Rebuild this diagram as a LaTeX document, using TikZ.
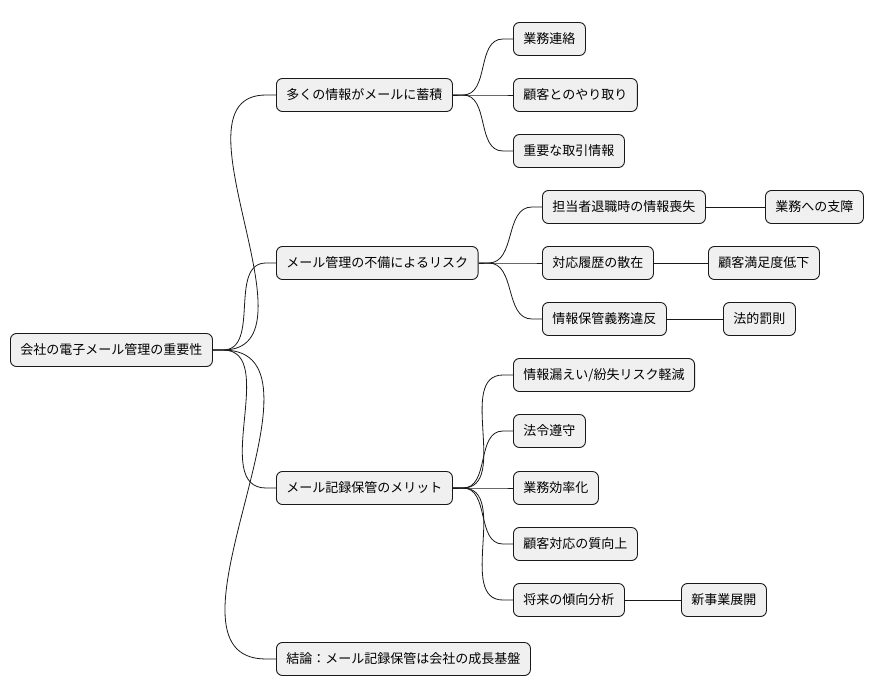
\documentclass[tikz,border=0pt]{standalone}
\usepackage{fontspec}
\newfontfamily\cjk{Noto Sans CJK JP}
\usetikzlibrary{calc}
\tikzset{
 mm/.style={draw=black!90,fill=black!6,rounded corners=6pt,line width=0.9pt,minimum height=33pt,inner xsep=10pt,inner ysep=0pt,font=\cjk\fontsize{13pt}{15pt}\selectfont,anchor=west},
 ln/.style={line width=0.8pt,draw=black!90}
}
\newcommand{\conn}[2]{\draw[ln] (#1.east) -- ++(10pt,0) to[out=0,in=180] ($(#2.west)+(-10pt,0)$) -- (#2.west);}
\begin{document}
\begin{tikzpicture}[x=1pt,y=-1pt]
\useasboundingbox (0,0) rectangle (880,696);
\node[mm] (r) at (10,350) {会社の電子メール管理の重要性};
\node[mm] (a) at (276,95) {多くの情報がメールに蓄積};
\node[mm] (b) at (276,263) {メール管理の不備によるリスク};
\node[mm] (c) at (276,488) {メール記録保管のメリット};
\node[mm] (d) at (276,659) {結論：メール記録保管は会社の成長基盤};
\node[mm] (a1) at (513,39) {業務連絡};
\node[mm] (a2) at (513,95) {顧客とのやり取り};
\node[mm] (a3) at (513,151) {重要な取引情報};
\node[mm] (b1) at (542,207) {担当者退職時の情報喪失};
\node[mm] (b1a) at (765,207) {業務への支障};
\node[mm] (b2) at (542,263) {対応履歴の散在};
\node[mm] (b2a) at (708,263) {顧客満足度低下};
\node[mm] (b3) at (542,319) {情報保管義務違反};
\node[mm] (b3a) at (723,319) {法的罰則};
\node[mm] (c1) at (513,375) {情報漏えい/紛失リスク軽減};
\node[mm] (c2) at (513,431) {法令遵守};
\node[mm] (c3) at (513,488) {業務効率化};
\node[mm] (c4) at (513,544) {顧客対応の質向上};
\node[mm] (c5) at (513,600) {将来の傾向分析};
\node[mm] (c5a) at (681,600) {新事業展開};
\conn{r}{a}\conn{r}{b}\conn{r}{c}\conn{r}{d}
\conn{a}{a1}\conn{a}{a2}\conn{a}{a3}
\conn{b}{b1}\conn{b}{b2}\conn{b}{b3}
\draw[ln] (b1.east)--(b1a.west); \draw[ln] (b2.east)--(b2a.west); \draw[ln] (b3.east)--(b3a.west);
\conn{c}{c1}\conn{c}{c2}\conn{c}{c3}\conn{c}{c4}\conn{c}{c5}
\draw[ln] (c5.east)--(c5a.west);
\end{tikzpicture}
\end{document}
